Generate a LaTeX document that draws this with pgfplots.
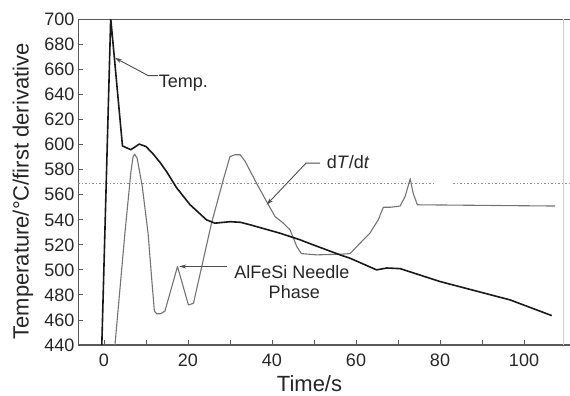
\documentclass[border=0pt]{standalone}
\usepackage{fontspec}
\setmainfont{Liberation Sans}
\usepackage{pgfplots}
\pgfplotsset{compat=1.18}
\usetikzlibrary{arrows.meta}
\begin{document}
\begin{tikzpicture}
\useasboundingbox (-78.5pt,-51pt) rectangle ++(570pt,396pt);
\begin{axis}[
  scale only axis, width=491.5pt, height=325.5pt,
  at={(0pt,0pt)}, anchor=south west,
  xmin=-6.07, xmax=110.95, ymin=440, ymax=700,
  axis x line*=box, axis y line*=left,
  axis line style={draw=black!65, line width=1.1pt},
  tick pos=left, tick align=inside,
  xtick={0,20,...,100}, minor xtick={10,30,...,90},
  ytick={440,460,...,700},
  major tick length=5pt, minor tick length=5pt,
  every tick/.style={draw=black!65, line width=0.9pt},
  /pgf/number format/assume math mode=true,
  ticklabel style={font=\fontsize{18}{20}\selectfont, text=black!85},
  xticklabel style={anchor=base, yshift=-21.7pt},
  yticklabel style={inner sep=0pt, xshift=-4pt},
  xlabel={Time/s}, ylabel={Temperature/°C/first derivative},
  label style={font=\fontsize{22}{24}\selectfont, text=black!85},
  xlabel style={at={(axis description cs:0.470,-0.1425)}, anchor=base},
  ylabel style={at={(axis description cs:-0.1017,0.4716)}, anchor=base},
  clip=true,
]
% faint right border
\draw[black!18, line width=0.8pt] (axis cs:109.3,440) -- (axis cs:109.3,700);
% reference line
\addplot[black!45, line width=0.9pt, dash pattern={on 2pt off 2pt on 1pt off 2pt}] coordinates {(-6.07,569.3) (78.4,569.3)};
\addplot[black!45, line width=0.9pt, dash pattern={on 2pt off 2pt on 1pt off 2pt}] coordinates {(83.2,569.3) (110.95,569.3)};
% dT/dt
\addplot[black!55, line width=1.1pt, line join=round] coordinates {
(2.4,432) (5.0,530) (6.4,578) (6.9,590) (7.3,592.5) (7.9,589) (9.1,567) (10.5,529)
(11.5,487) (12.0,467) (12.6,465) (13.5,465) (14.5,467) (17.5,502.7) (20.1,472)
(21.3,473.3) (25.6,537.3) (28.4,572) (30.0,590.5) (31.2,592) (32.4,592) (33.6,586.7)
(36.3,569.3) (38.7,554.7) (40.7,542.7) (42.7,537.3) (44.3,532) (45.9,518.7) (47.0,513)
(50.6,512) (56.2,512.5) (58.6,513) (60.2,518.7) (63.3,529.3) (65.3,540) (66.5,550)
(68.1,550) (70.5,551) (71.7,558.7) (72.9,572.8) (73.6,561.3) (74.6,552) (107.4,551)
};
% Temp
\addplot[black!90, line width=1.6pt, line join=round] coordinates {
(-0.6,430) (1.6,701) (4.4,599) (6.4,596) (8.4,600.5) (10,598.5) (11.6,593) (13.3,586)
(14.9,578.5) (17.3,565.5) (20.5,552) (24.4,540) (26.4,537.3) (30,538.5) (32.5,538)
(34.8,536) (41.9,529.3) (46.7,524) (49.8,520) (56.2,512) (58.6,509.3) (64.9,500)
(67.3,501.5) (70.5,501) (80,490.7) (96.7,476) (106.6,463.5)
};
% annotations
\draw[black!70, line width=0.9pt, -{Stealth[length=7pt,width=4pt]}] (axis cs:12.8,655.2) -- (axis cs:10.5,655.2) -- (axis cs:2.6,669.4);
\node[anchor=base west, inner sep=0pt, font=\fontsize{18}{20}\selectfont, text=black!85] at (axis cs:13.0,646) {Temp.};
\draw[black!70, line width=0.9pt, -{Stealth[length=7pt,width=4pt]}] (axis cs:51.4,585.3) -- (axis cs:48.1,585.3) -- (axis cs:38.7,552);
\node[anchor=base west, inner sep=0pt, font=\fontsize{18}{20}\selectfont, text=black!85] at (axis cs:53.0,581.3) {d\textit{T}/d\textit{t}};
\draw[black!70, line width=0.9pt, -{Stealth[length=7pt,width=4pt]}] (axis cs:29.2,502.7) -- (axis cs:17.9,502.7);
\node[anchor=base west, inner sep=0pt, font=\fontsize{18}{20}\selectfont, text=black!85] at (axis cs:31.0,492.8) {AlFeSi Needle};
\node[anchor=base, inner sep=0pt, font=\fontsize{18}{20}\selectfont, text=black!85] at (axis cs:45.3,477.3) {Phase};
\end{axis}
\end{tikzpicture}
\end{document}
